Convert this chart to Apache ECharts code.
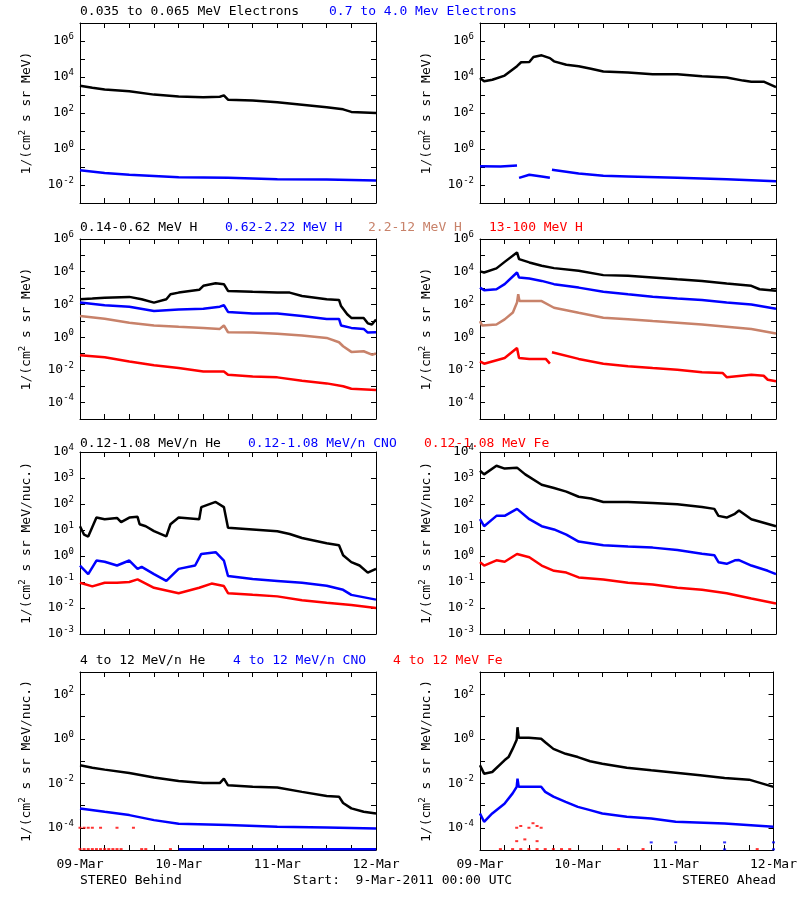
<!DOCTYPE html>
<html><head><meta charset="utf-8">
<script src="https://cdn.jsdelivr.net/npm/echarts@6/dist/echarts.min.js"></script>
<style>html,body{margin:0;padding:0;background:#fff}#c{width:800px;height:900px}</style>
</head><body><div id="c"></div>
<script>
// ---- data: [hours since 9-Mar-2011 00:00, flux] ----
const dayLabels = ['09-Mar','10-Mar','11-Mar','12-Mar'];
// Row 1 electrons
const bE1 = [[0,3300],[3,2500],[6,2000],[12,1600],[18,1050],[24,830],[30,740],[34,800],[35,950],[36,550],[42,490],[48,400],[54,290],[60,210],[64,160],[66,115],[72,100]];
const bE2 = [[0,0.065],[6,0.047],[12,0.037],[24,0.027],[36,0.025],[48,0.021],[60,0.02],[72,0.018]];
const aE1 = [[0,8700],[1,5800],[3,7000],[6,12000],[9,40000],[10,66000],[12,68000],[13,130000],[15,160000],[17,112000],[18,74000],[21,48000],[24,40000],[27,29000],[30,20000],[36,18000],[42,14000],[48,14000],[54,11000],[60,9500],[64,6300],[66,5500],[69,5500],[72,2750]];
const aE2a = [[0,0.11],[5,0.105],[9,0.12]];
const aE2b = [[9.5,0.025],[12,0.037],[15,0.03],[17,0.025]];
const aE2c = [[17.5,0.07],[24,0.043],[30,0.033],[36,0.03],[48,0.025],[60,0.021],[72,0.016]];
// Row 2 protons
const bH1 = [[0,210],[3,230],[6,260],[12,290],[15,210],[18,130],[21,210],[22,420],[24,530],[29,780],[30,1380],[33,2000],[35,1740],[36,670],[42,590],[48,530],[51,530],[54,330],[60,210],[63,190],[63.5,80],[65,25],[66,15],[69,15],[70,7],[71,6],[72,12]];
const bH2 = [[0,130],[6,90],[12,73],[18,40],[24,50],[30,55],[34,73],[35,90],[36,35],[42,28],[48,28],[54,19.5],[60,13],[63,13],[63.5,5.2],[66,3.7],[69,3.2],[70,1.9],[72,2]];
const bH3 = [[0,20],[6,13.5],[12,7.6],[18,5.2],[24,4.3],[30,3.7],[34,3.2],[35,5.2],[36,2],[42,1.9],[48,1.6],[54,1.26],[60,0.9],[63,0.49],[64,0.28],[66,0.126],[69,0.138],[71,0.085],[72,0.1]];
const bH4 = [[0,0.078],[6,0.06],[12,0.033],[18,0.019],[24,0.013],[30,0.008],[35,0.008],[36,0.005],[42,0.004],[48,0.0035],[54,0.0022],[60,0.0015],[64,0.001],[66,0.0007],[72,0.0006]];
const aH1 = [[0,10500],[1,9000],[4,16000],[6,40000],[9,150000],[9.5,59000],[12,37000],[15,23000],[18,16600],[24,11500],[30,6200],[36,5600],[42,4500],[48,3500],[54,2750],[60,1900],[66,1380],[68,850],[72,680]];
const aH2 = [[0,1070],[1,740],[4,850],[6,1740],[9,9000],[9.5,4500],[12,3900],[15,2750],[18,1740],[24,1070],[30,590],[36,420],[42,300],[48,230],[54,186],[60,130],[66,100],[72,55]];
const aH3 = [[0,9.6],[0.5,5.2],[4,6],[6,12.3],[8,32],[9,130],[9.3,420],[9.6,160],[15,160],[18,63],[24,31],[30,15.5],[36,12.3],[42,9.6],[48,7.6],[54,6],[60,4.4],[66,3.2],[72,1.66]];
const aH4a = [[0,0.033],[1,0.024],[6,0.054],[9,0.22],[9.5,0.054],[12,0.047],[16,0.047],[17,0.024]];
const aH4b = [[17.5,0.12],[24,0.047],[30,0.024],[36,0.0166],[42,0.0129],[48,0.0102],[54,0.0071],[59,0.0065],[60,0.0036],[66,0.005],[69,0.0044],[70,0.0025],[72,0.002]];
// Row 3 low-energy ions
const bI1 = [[0,14],[1,6.6],[2,5.6],[4,30],[6,26],[9,29],[10,20],[12,30],[14,32],[14.5,16.6],[16,14],[18,9],[21,5.7],[22,16.6],[24,30],[29,26],[29.5,76],[33,120],[35,76],[36,12.3],[42,10.5],[48,9],[51,7],[54,4.9],[60,3.1],[63,2.6],[64,1.07],[66,0.58],[68,0.43],[70,0.23],[72,0.32]];
const bI2 = [[0,0.43],[2,0.2],[4,0.67],[6,0.6],[9,0.43],[12,0.67],[14,0.32],[15,0.38],[18,0.2],[21,0.11],[24,0.32],[28,0.43],[29.5,1.2],[33,1.4],[35,0.67],[36,0.17],[42,0.13],[48,0.11],[54,0.093],[60,0.072],[64,0.05],[66,0.032],[72,0.021]];
const bI3 = [[0,0.093],[3,0.068],[6,0.093],[9,0.093],[12,0.1],[14,0.126],[18,0.06],[24,0.037],[29,0.06],[32,0.087],[35,0.07],[36,0.037],[42,0.032],[48,0.028],[54,0.02],[60,0.016],[66,0.013],[72,0.01]];
const aI1 = [[0,1900],[1,1380],[4,2950],[6,2300],[9,2500],[11,1380],[15,550],[18,410],[21,300],[24,190],[27,162],[30,120],[36,120],[42,110],[48,98],[54,76],[57,65],[58,35],[60,30],[62,42],[63,56],[66,26],[72,14]];
const aI2 = [[0,26],[1,14],[4,35],[6,35],[9,65],[12,26],[15,14],[18,10.5],[21,6.6],[24,3.6],[30,2.6],[36,2.3],[42,2.1],[48,1.7],[54,1.23],[57,1.07],[58,0.58],[60,0.5],[62,0.68],[63,0.7],[66,0.43],[70,0.27],[72,0.2]];
const aI3 = [[0,0.58],[1,0.43],[4,0.68],[6,0.6],[9,1.2],[12,0.9],[15,0.43],[18,0.27],[21,0.23],[24,0.15],[30,0.126],[36,0.093],[42,0.08],[48,0.06],[54,0.05],[60,0.037],[66,0.023],[72,0.015]];
// Row 4 high-energy ions
const bJ1 = [[0,0.064],[3,0.05],[6,0.041],[12,0.029],[18,0.018],[24,0.0126],[30,0.0102],[34,0.0102],[35,0.0162],[36,0.0081],[42,0.0069],[48,0.0064],[54,0.0041],[60,0.0027],[63,0.0025],[64,0.0013],[66,0.00074],[69,0.00052],[72,0.00044]];
const bJ2 = [[0,0.00074],[6,0.00052],[12,0.00037],[18,0.00022],[24,0.00015],[36,0.000132],[48,0.00011],[60,0.000102],[72,0.000093]];
const bJ2f = [[24,1.07e-5],[36,1.07e-5],[48,1.07e-5],[60,1.07e-5],[72,1.07e-5]];
const bJ3 = [[0,1e-4],[1,1e-4],[2,1e-4],[3,1e-4],[5,1e-4],[9,1e-4],[13,1e-4],[0,1.1e-5],[1,1.1e-5],[2,1.1e-5],[3,1.1e-5],[4,1.1e-5],[5,1.1e-5],[6,1.1e-5],[7,1.1e-5],[8,1.1e-5],[9,1.1e-5],[10,1.1e-5],[15,1.1e-5],[16,1.1e-5],[22,1.1e-5],[61,1.1e-5]];
const aJ1 = [[0,0.064],[1,0.027],[3,0.032],[6,0.107],[7,0.15],[8,0.35],[9,0.9],[9.2,3.3],[9.5,1.1],[12,1.1],[15,1],[16,0.7],[18,0.35],[21,0.21],[24,0.15],[27,0.098],[30,0.076],[36,0.05],[42,0.038],[48,0.03],[54,0.023],[60,0.0174],[66,0.0145],[72,0.0069]];
const aJ2 = [[0,0.00044],[1,0.000186],[3,0.00044],[6,0.0012],[8,0.0035],[9,0.0069],[9.2,0.0162],[9.5,0.0069],[15,0.0069],[16,0.0041],[18,0.0025],[21,0.00145],[24,0.00087],[27,0.00062],[30,0.00044],[36,0.00031],[42,0.00026],[48,0.000186],[60,0.000155],[72,0.00011]];
const aJ2f = [[42,2.2e-5],[48,2.2e-5],[60,2.2e-5],[72,2.2e-5],[60,1.07e-5],[72,1.07e-5]];
const aJ3 = [[5,1.1e-5],[9,1e-4],[10,1.2e-4],[12,1e-4],[13,1.6e-4],[14,1.2e-4],[15,1e-4],[9,2.5e-5],[11,3e-5],[14,2.5e-5],[8,1.1e-5],[10,1.1e-5],[12,1.1e-5],[14,1.1e-5],[16,1.1e-5],[18,1.1e-5],[20,1.1e-5],[22,1.1e-5],[34,1.1e-5],[40,1.1e-5],[68,1.1e-5]];

const BLACK='#000000', BLUE='#0000ff', RED='#ff0000', BROWN='#c8826a';
const FONT='DejaVu Sans Mono';
const L=Math.log10;
const tf = arr => arr.map(p=>[p[0], L(p[1])]);

const rows = [
  {top:23, h:180, min:-3, max:7, every:2, name:'1/(cm{s|2} s sr MeV)'},
  {top:239, h:180, min:-5, max:6, every:2, name:'1/(cm{s|2} s sr MeV)'},
  {top:452, h:182, min:-3, max:4, every:1, name:'1/(cm{s|2} s sr MeV/nuc.)'},
  {top:672, h:178, min:-5, max:3, every:2, name:'1/(cm{s|2} s sr MeV/nuc.)'}
];
const lefts=[80,480];
const panels = [
  [[ [bE1,BLACK,'l'],[bE2,BLUE,'l'] ], [ [aE1,BLACK,'l'],[aE2a,BLUE,'l'],[aE2b,BLUE,'l'],[aE2c,BLUE,'l'] ]],
  [[ [bH1,BLACK,'l'],[bH2,BLUE,'l'],[bH3,BROWN,'l'],[bH4,RED,'l'] ], [ [aH1,BLACK,'l'],[aH2,BLUE,'l'],[aH3,BROWN,'l'],[aH4a,RED,'l'],[aH4b,RED,'l'] ]],
  [[ [bI1,BLACK,'l'],[bI2,BLUE,'l'],[bI3,RED,'l'] ], [ [aI1,BLACK,'l'],[aI2,BLUE,'l'],[aI3,RED,'l'] ]],
  [[ [bJ1,BLACK,'l'],[bJ2,BLUE,'l'],[bJ2f,BLUE,'l'],[bJ3,RED,'s'] ], [ [aJ1,BLACK,'l'],[aJ2,BLUE,'l'],[aJ2f,BLUE,'s'],[aJ3,RED,'s'] ]]
];

const grid=[], xAxis=[], yAxis=[], series=[];
const lbl = {fontFamily:FONT, fontSize:13, color:'#000'};
rows.forEach((r,ri)=>{
  lefts.forEach((lx,ci)=>{
    const g = grid.length;
    grid.push({left:lx, top:r.top, width:296, height:r.h, show:false});
    const xb = {gridIndex:g, type:'value', min:0, max:72, interval:6, position:'bottom',
      axisLine:{show:true,onZero:false,lineStyle:{color:'#000',width:1}}, axisTick:{show:true,inside:true,length:5,lineStyle:{color:'#000'}},
      splitLine:{show:false},
      axisLabel:{show:ri===3, margin:8, ...lbl, formatter:v=> v%24===0 ? dayLabels[v/24] : ''}};
    xAxis.push(xb);
    xAxis.push({...xb, position:'top', axisLabel:{show:false}});
    const yi = yAxis.length;
    const yl = {gridIndex:g, type:'value', min:r.min, max:r.max, interval:1, position:'left',
      axisLine:{show:true,onZero:false,lineStyle:{color:'#000',width:1}}, axisTick:{show:true,inside:true,length:5,lineStyle:{color:'#000'}},
      splitLine:{show:false},
      name:r.name, nameLocation:'middle', nameGap:44, nameRotate:90,
      nameTextStyle:{fontFamily:FONT, fontSize:13, color:'#000', rich:{s:{fontFamily:FONT,fontSize:9,padding:[0,0,9,0]}}},
      axisLabel:{margin:6, fontFamily:FONT, fontSize:13, color:'#000',
        formatter:v=> (r.every===1 || ((v%2)+2)%2===0) ? '{b|10}{s|'+v+'}' : '',
        rich:{b:{fontFamily:FONT,fontSize:13},s:{fontFamily:FONT,fontSize:9,padding:[0,0,9,0]}}}};
    yAxis.push(yl);
    yAxis.push({...yl, position:'right', name:'', axisLabel:{show:false}});
    panels[ri][ci].forEach(([d,c,k])=>{
      if(k==='s'){
        series.push({type:'scatter', xAxisIndex:2*g, yAxisIndex:yi, data:tf(d), symbol:'rect', symbolSize:[3,2], itemStyle:{color:c}, silent:true});
      } else {
        series.push({type:'line', xAxisIndex:2*g, yAxisIndex:yi, data:tf(d), showSymbol:false, lineStyle:{color:c,width:2.5}, silent:true});
      }
    });
  });
});

const tx = (x,y,text,color,align)=>({type:'text', left: align==='right'?undefined:x, right: align==='right'? 800-x : undefined, top:y,
  style:{text, fill:color, font:'13px "DejaVu Sans Mono"'}});
const graphic = [
  tx(80,5,'0.035 to 0.065 MeV Electrons',BLACK), tx(329,5,'0.7 to 4.0 Mev Electrons',BLUE),
  tx(80,221,'0.14-0.62 MeV H',BLACK), tx(225,221,'0.62-2.22 MeV H',BLUE), tx(368,221,'2.2-12 MeV H',BROWN), tx(489,221,'13-100 MeV H',RED),
  tx(80,437,'0.12-1.08 MeV/n He',BLACK), tx(248,437,'0.12-1.08 MeV/n CNO',BLUE), tx(424,437,'0.12-1.08 MeV Fe',RED),
  tx(80,654,'4 to 12 MeV/n He',BLACK), tx(233,654,'4 to 12 MeV/n CNO',BLUE), tx(393,654,'4 to 12 MeV Fe',RED),
  tx(80,874,'STEREO Behind',BLACK), tx(293,874,'Start:  9-Mar-2011 00:00 UTC',BLACK), tx(776,874,'STEREO Ahead',BLACK,'right')
];

const chart = echarts.init(document.getElementById('c'), null, {renderer:'canvas'});
chart.setOption({animation:false, backgroundColor:'#fff', grid, xAxis, yAxis, series, graphic});
</script></body></html>
